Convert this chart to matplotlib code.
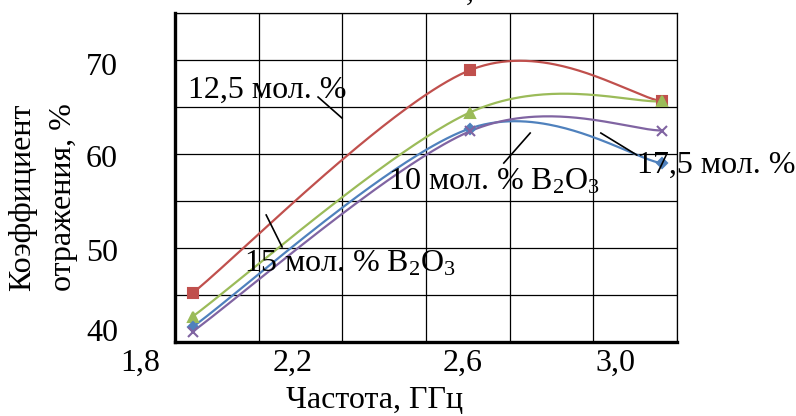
import numpy as np
import matplotlib
matplotlib.use('Agg')
import matplotlib.pyplot as plt
from matplotlib.transforms import ScaledTranslation

plt.rcParams['font.family'] = ['Liberation Serif', 'DejaVu Serif']
plt.rcParams['mathtext.fontset'] = 'custom'
plt.rcParams['mathtext.rm'] = 'Liberation Serif'
plt.rcParams['mathtext.it'] = 'Liberation Serif:italic'

# data
freq = [1.842, 2.504, 2.964]
refl_125 = [45.2, 68.9, 65.6]
refl_15 = [42.7, 64.4, 65.6]
refl_175 = [41.6, 62.7, 59.0]
refl_10 = [41.1, 62.4, 62.5]

xticks = [1.8, 2.0, 2.2, 2.4, 2.6, 2.8, 3.0]
xtick_labels = ['1,8', '', '2,2', '', '2,6', '', '3,0']
yticks = [40, 45, 50, 55, 60, 65, 70, 75]
ytick_labels = ['40', '', '50', '', '60', '', '70', '']

W, H = 796, 416
FS = 23


def excel_smooth(x, y, n=80):
    # Excel-style smoothed line: cubic bezier, control points from neighbours / 6
    pts = np.column_stack([x, y]).astype(float)
    P = np.vstack([pts[0], pts, pts[-1]])
    t = np.linspace(0, 1, n)[:, None]
    out = []
    for i in range(len(pts) - 1):
        p0, p1, p2, p3 = P[i], P[i + 1], P[i + 2], P[i + 3]
        c1 = p1 + (p2 - p0) / 6
        c2 = p2 - (p3 - p1) / 6
        seg = (1 - t) ** 3 * p1 + 3 * (1 - t) ** 2 * t * c1 + 3 * (1 - t) * t ** 2 * c2 + t ** 3 * p2
        out.append(seg if i == 0 else seg[1:])
    return np.vstack(out)


fig = plt.figure(figsize=(W / 100, H / 100), dpi=100)
ax = fig.add_axes([175 / W, 1 - 342 / H, (677 - 175) / W, (342 - 13) / H])

series = [
    (refl_125, '#C0504D', 's', 6.5),
    (refl_15, '#9BBB59', '^', 7),
    (refl_175, '#4F81BD', 'D', 5),
    (refl_10, '#8064A2', 'x', 7),
]
for vals, col, mk, ms in series:
    c = excel_smooth(freq, vals)
    ax.plot(c[:, 0], c[:, 1], color=col, lw=1.6, zorder=3)
    ax.plot(freq, vals, ls='none', marker=mk, ms=ms, color=col, mew=1.5, zorder=4)

ax.set_xlim(1.8, 3.0)
ax.set_ylim(40, 75)
ax.set_xticks(xticks)
ax.set_xticklabels(xtick_labels, fontsize=FS)
ax.set_yticks(yticks)
ax.set_yticklabels(ytick_labels, fontsize=FS)
ax.tick_params(length=0)
ax.tick_params(axis='x', pad=5)
ax.tick_params(axis='y', pad=41)
ax.grid(True, color='black', lw=0.9)
ax.set_axisbelow(True)
for s in ('top', 'right'):
    ax.spines[s].set_linewidth(0.9)
for s in ('left', 'bottom'):
    ax.spines[s].set_linewidth(2.4)

# nudge tick labels where the original put them
for lab, dx in zip(ax.get_xticklabels(), [-35, 0, -50, 0, -47, 0, -62]):
    lab.set_transform(lab.get_transform() + ScaledTranslation(dx / 100, 0, fig.dpi_scale_trans))
for lab, dy in zip(ax.get_yticklabels(), [12, 0, -2, 0, -2, 0, -4, 0]):
    lab.set_transform(lab.get_transform() + ScaledTranslation(0, dy / 100, fig.dpi_scale_trans))

fig.text(23 / W, 1 - 197 / H, 'Коэффициент', rotation=90, fontsize=FS, ha='center', va='center')
fig.text(63 / W, 1 - 197 / H, 'отражения, %', rotation=90, fontsize=FS, ha='center', va='center')
fig.text(375 / W, 1 - 401 / H, 'Частота, ГГц', fontsize=FS, ha='center', va='center')
fig.text(470 / W, 1.0, ',', fontsize=FS, ha='center', va='baseline')

# labels and leader lines (data coords)
ax.text(1.831, 66.8, '12,5 мол. %', fontsize=FS, va='center', ha='left', zorder=5)
ax.text(1.965, 48.3, '15 мол. % B$_2$O$_3$', fontsize=FS, va='center', ha='left', zorder=5)
ax.text(2.308, 57.0, '10 мол. % B$_2$O$_3$', fontsize=FS, va='center', ha='left', zorder=5)
ax.text(2.904, 58.8, '17,5 мол. %', fontsize=FS, va='center', ha='left', zorder=5, clip_on=False)
leaders = [
    ([2.142, 2.199], [66.06, 63.83]),
    ([2.018, 2.056], [53.51, 50.11]),
    ([2.586, 2.649], [59.04, 62.23]),
    ([2.818, 2.904], [62.23, 59.89]),
]
for lx, ly in leaders:
    ax.plot(lx, ly, color='black', lw=1.2, zorder=5)

fig.savefig('out.png', dpi=100, facecolor='white')
